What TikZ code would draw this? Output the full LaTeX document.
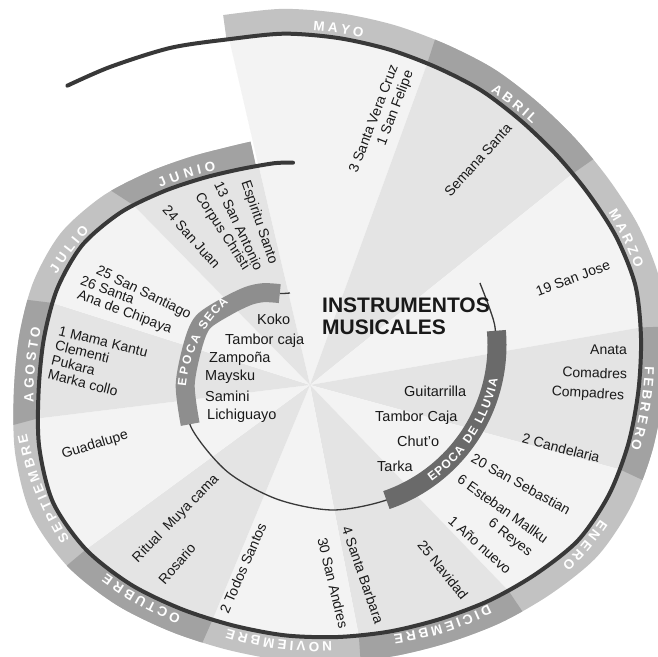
\documentclass[tikz,border=0pt]{standalone}
\usepackage{fontspec}
\setmainfont{Liberation Sans}
\usetikzlibrary{calc}
\definecolor{bandL}{HTML}{C2C2C2}
\definecolor{bandD}{HTML}{A2A2A2}
\definecolor{wedL}{HTML}{F3F3F3}
\definecolor{wedD}{HTML}{E4E4E4}
\definecolor{secaC}{HTML}{8E8E8E}
\definecolor{lluviaC}{HTML}{6A6A6A}
\definecolor{lineC}{HTML}{383838}
\newcommand{\mfont}{\bfseries\fontsize{13.5}{13.5}\selectfont}
\newcommand{\efont}{\bfseries\fontsize{12}{12}\selectfont}
\newcommand{\bandpath}{plot[smooth] coordinates {(110:331) (100:322) (90:313) (80:306) (70:301) (60:299) (50:297) (40:298) (30:302) (20:309) (10:315) (0:316) (-10:318) (-20:322) (-30:326) (-40:327) (-50:321) (-60:316) (-70:312) (-80:311) (-90:312) (-100:315) (-110:319) (-120:326) (-130:335) (-140:342) (-150:342) (-160:331) (-170:317) (-180:307) (-190:298) (-200:285) (-210:264) (-220:241) (-230:222) (-240:208) (-245.3:203.2)}}
\def\awsp{-}
\def\awspw{4}
% #1 font, #2 centre angle, #3 baseline radius, #4 dr/dtheta, #5 direction (1 cw, -1 ccw), #6 gap, #7 letters
\newcommand{\arcword}[7]{%
  \begingroup #1%
  \gdef\awtot{0}%
  \foreach \ltr in {#7}{%
    \ifx\ltr\awsp \pgfmathsetmacro\aww{\awspw}\else \pgfmathsetmacro\aww{width("\ltr")}\fi
    \pgfmathparse{\awtot+\aww+#6}\xdef\awtot{\pgfmathresult}}%
  \pgfmathparse{\awtot-#6}\xdef\awtot{\pgfmathresult}%
  \gdef\awpos{0}%
  \foreach \ltr in {#7}{%
    \ifx\ltr\awsp \pgfmathsetmacro\aww{\awspw}\else \pgfmathsetmacro\aww{width("\ltr")}\fi
    \pgfmathsetmacro\awth{#2 - (#5)*(\awpos + \aww/2 - \awtot/2)/(#3)*57.2958}%
    \pgfmathsetmacro\awr{#3 + (#4)*(\awth - (#2))}%
    \pgfmathsetmacro\awrot{\awth - (#5)*90 - atan((#4)*57.2958/\awr)}%
    \ifx\ltr\awsp\else\node[font=#1, text=white, rotate=\awrot, anchor=base, inner sep=0pt] at (\awth:\awr) {\ltr};\fi
    \pgfmathparse{\awpos+\aww+#6}\xdef\awpos{\pgfmathresult}%
  }%
  \endgroup}
\begin{document}
\begin{tikzpicture}[x=1pt,y=1pt,
  ev/.style={font=\fontsize{14}{16}\selectfont, text=black!90, inner sep=0pt},
  ins/.style={font=\fontsize{14.5}{16}\selectfont, text=black!90, inner sep=0pt, anchor=base west},
  ttl/.style={font=\bfseries\fontsize{21}{23}\selectfont, text=black!90, inner sep=0pt, anchor=base west}]
\useasboundingbox (0,0) rectangle (657,657);
\fill[white] (0,0) rectangle (657,657);
\coordinate (W) at (310,272);
\begin{scope}[shift={(338,319)}]
  \coordinate (pA) at (110:318);
  \coordinate (p72) at (72:289);
  \coordinate (p35) at (35:287);
  \coordinate (p2) at (2:303);
  \coordinate (pm25) at (-25:311);
  \coordinate (pm56) at (-56:305);
  \coordinate (pm86) at (-86:298.6);
  \coordinate (pm114) at (-114:308.8);
  \coordinate (pm140) at (-140:329);
  \coordinate (pm165) at (-165:311);
  \coordinate (pm187) at (-187:287.7);
  \coordinate (pm213) at (-213:244.1);
  \coordinate (pB) at (-245.3:190.2);
\end{scope}
% wedges
\begin{scope}
  \clip[shift={(338,319)}] plot[smooth] coordinates {(110:318) (100:309) (90:300) (80:293) (70:288) (60:286) (50:284) (40:285) (30:289) (20:296) (10:302) (0:303) (-10:305) (-20:309) (-30:313) (-40:314) (-50:308) (-60:303) (-70:299) (-80:298) (-90:299) (-100:302) (-110:306) (-120:313) (-130:322) (-140:329) (-150:329) (-160:318) (-170:304) (-180:294) (-190:285) (-200:272) (-210:251) (-220:228) (-230:209) (-240:195) (-245.3:190.2)} -- cycle;
  \fill[wedL] (W) -- ($(W)!6!(pA)$) -- ($(W)!6!(p72)$) -- cycle;
  \fill[wedD] (W) -- ($(W)!6!(p72)$) -- ($(W)!6!(p35)$) -- cycle;
  \fill[wedL] (W) -- ($(W)!6!(p35)$) -- ($(W)!6!(p2)$) -- cycle;
  \fill[wedD] (W) -- ($(W)!6!(p2)$) -- ($(W)!6!(pm25)$) -- cycle;
  \fill[wedL] (W) -- ($(W)!6!(pm25)$) -- ($(W)!6!(pm56)$) -- cycle;
  \fill[wedD] (W) -- ($(W)!6!(pm56)$) -- ($(W)!6!(pm86)$) -- cycle;
  \fill[wedL] (W) -- ($(W)!6!(pm86)$) -- ($(W)!6!(pm114)$) -- cycle;
  \fill[wedD] (W) -- ($(W)!6!(pm114)$) -- ($(W)!6!(pm140)$) -- cycle;
  \fill[wedL] (W) -- ($(W)!6!(pm140)$) -- ($(W)!6!(pm165)$) -- cycle;
  \fill[wedD] (W) -- ($(W)!6!(pm165)$) -- ($(W)!6!(pm187)$) -- cycle;
  \fill[wedL] (W) -- ($(W)!6!(pm187)$) -- ($(W)!6!(pm213)$) -- cycle;
  \fill[wedD] (W) -- ($(W)!6!(pm213)$) -- ($(W)!6!(pB)$) -- cycle;
\end{scope}
% month band, dark spiral line, month names
\begin{scope}[shift={(338,319)}]
  \draw[bandL, line width=24pt] \bandpath;
  \foreach \a/\m/\b in {72/53.5/35, 2/-11.5/-25, -56/-71/-86, -114/-127/-140, -165/-176/-187, -213/-231/-248}{
    \begin{scope}
      \clip (0,0) -- (\a:900) -- (\m:900) -- (\b:900) -- cycle;
      \draw[bandD, line width=24pt] \bandpath;
    \end{scope}
  }
  \draw[lineC, line width=4pt, line cap=round] plot[smooth] coordinates {(137:370) (130:354) (120:335) (110:318) (100:309) (90:300) (80:293) (70:288) (60:286) (50:284) (40:285) (30:289) (20:296) (10:302) (0:303) (-10:305) (-20:309) (-30:313) (-40:314) (-50:308) (-60:303) (-70:299) (-80:298) (-90:299) (-100:302) (-110:306) (-120:313) (-130:322) (-140:329) (-150:329) (-160:318) (-170:304) (-180:294) (-190:285) (-200:272) (-210:251) (-220:228) (-230:209) (-240:195) (-250:186) (-255.6:181)};
  \arcword{\mfont}{90}{305}{0.8}{1}{3}{M,A,Y,O}
  \arcword{\mfont}{53}{289.6}{0.1}{1}{3}{A,B,R,I,L}
  \arcword{\mfont}{19}{301.6}{-0.65}{1}{3}{M,A,R,Z,O}
  \arcword{\mfont}{-13}{310.5}{-0.3}{1}{3}{F,E,B,R,E,R,O}
  \arcword{\mfont}{-40}{319}{0}{1}{3}{E,N,E,R,O}
  \arcword{\mfont}{-70}{304}{0.25}{1}{3}{D,I,C,I,E,M,B,R,E}
  \arcword{\mfont}{-101}{307.4}{-0.35}{1}{3}{N,O,V,I,E,M,B,R,E}
  \arcword{\mfont}{-127}{324.3}{-0.8}{1}{3}{O,C,T,U,B,R,E}
  \arcword{\mfont}{-153}{330.7}{0.5}{1}{3}{S,E,P,T,I,E,M,B,R,E}
  \arcword{\mfont}{-175}{304}{1.0}{1}{3}{A,G,O,S,T,O}
  \arcword{\mfont}{-198}{279.6}{1.7}{1}{3}{J,U,L,I,O}
  \arcword{\mfont}{-227}{219.7}{1.87}{1}{3}{J,U,N,I,O}
\end{scope}
% inner spiral
\begin{scope}[shift={(333,312)}]
  \draw[lineC, line width=1.3pt] plot[smooth] coordinates {(22.9:159.5) (12.6:161) (5:163) (-10:164) (-30:165) (-50:165) (-70:164) (-90:165) (-110:164) (-130:165) (-150:164) (-165:153) (-180:140) (-190:132) (-200:113) (-210:98) (-217:87) (-224:74) (-230.4:67.5)};
  \draw[secaC, line width=19pt] plot[smooth] coordinates {(-151:163.3) (-165:153) (-180:140) (-190:132) (-200:113) (-210:98) (-217:87) (-224:74)};
  \draw[lluviaC, line width=19pt] (5:164) arc[start angle=5, end angle=-71, radius=164];
  \arcword{\efont}{-183}{133}{1.05}{1}{1}{E,P,O,C,A,-,S,E,C,A}
  \arcword{\efont}{-33}{168.5}{0}{-1}{1}{E,P,O,C,A,-,D,E,-,L,L,U,V,I,A}
\end{scope}
% title
\node[ttl] (t1) at (322,344) {INSTRUMENTOS};
\node[ttl] (t2) at (322,322) {MUSICALES};
% instruments
\node[ins] (i1) at (257,332) {Koko};
\node[ins] (i2) at (225,312) {Tambor caja};
\node[ins] (i3) at (209,294) {Zampoña};
\node[ins] (i4) at (205,276) {Maysku};
\node[ins] (i5) at (205,255) {Samini};
\node[ins] (i6) at (207,237) {Lichiguayo};
\node[ins] (i7) at (404,260) {Guitarrilla};
\node[ins] (i8) at (375,235) {Tambor Caja};
\node[ins] (i9) at (397,210) {Chut'o};
\node[ins] (i10) at (377,185) {Tarka};
% events
\node[ev, align=right, rotate=69] (e1) at (382,535) {3 Santa Vera Cruz\\1 San Felipe};
\node[ev, rotate=48] (e2) at (478,497) {Semana Santa};
\node[ev, rotate=20.5] (e3) at (573,379) {19 San Jose};
\node[ev, anchor=base east] (e4) at (627,302) {Anata};
\node[ev, anchor=base east, rotate=-2] (e5) at (627,278) {Comadres};
\node[ev, anchor=base east, rotate=-3.5] (e6) at (624,257) {Compadres};
\node[ev, rotate=-14.5] (e7) at (561,209) {2 Candelaria};
\node[ev, rotate=-29] (e8) at (521,173) {20 San Sebastian};
\node[ev, rotate=-35.5] (e9) at (503,148) {6 Esteban Mallku};
\node[ev, rotate=-38] (e10) at (510,119) {6 Reyes};
\node[ev, rotate=-42] (e11) at (480,112) {1 Año nuevo};
\node[ev, rotate=-51] (e12) at (443,87) {25 Navidad};
\node[ev, rotate=-71] (e13) at (363,82) {4 Santa Barbara};
\node[ev, rotate=-76.5] (e14) at (333,74) {30 San Andres};
\node[ev, rotate=66.5] (e15) at (243,89) {2 Todos Santos};
\node[ev, rotate=49] (e16) at (177,93) {Rosario};
\node[ev, rotate=45.6] (e17) at (176,138) {Ritual\hspace{8pt}Muya cama};
\node[ev, rotate=17] (e18) at (95,212) {Guadalupe};
\node[ev, align=left, rotate=-14, anchor=west, font=\fontsize{14}{15}\selectfont] (e19) at (53.5,304.5) {1 Mama Kantu\\Clementi\\Pukara\\Marka collo};
\node[ev, rotate=-26] (e20) at (143.5,364) {25 San Santiago};
\node[ev, rotate=-20] (e21) at (107.5,367) {26 Santa};
\node[ev, rotate=-20.4] (e22) at (124.5,344.5) {Ana de Chipaya};
\node[ev, rotate=-71] (e23) at (259,434.5) {Espiritu Santo};
\node[ev, rotate=-64.5] (e24) at (239,431) {13 San Antonio};
\node[ev, rotate=-57] (e25) at (222,425.5) {Corpus Christi};
\node[ev, rotate=-48.5] (e26) at (191.5,420) {24 San Juan};
\end{tikzpicture}
\end{document}
